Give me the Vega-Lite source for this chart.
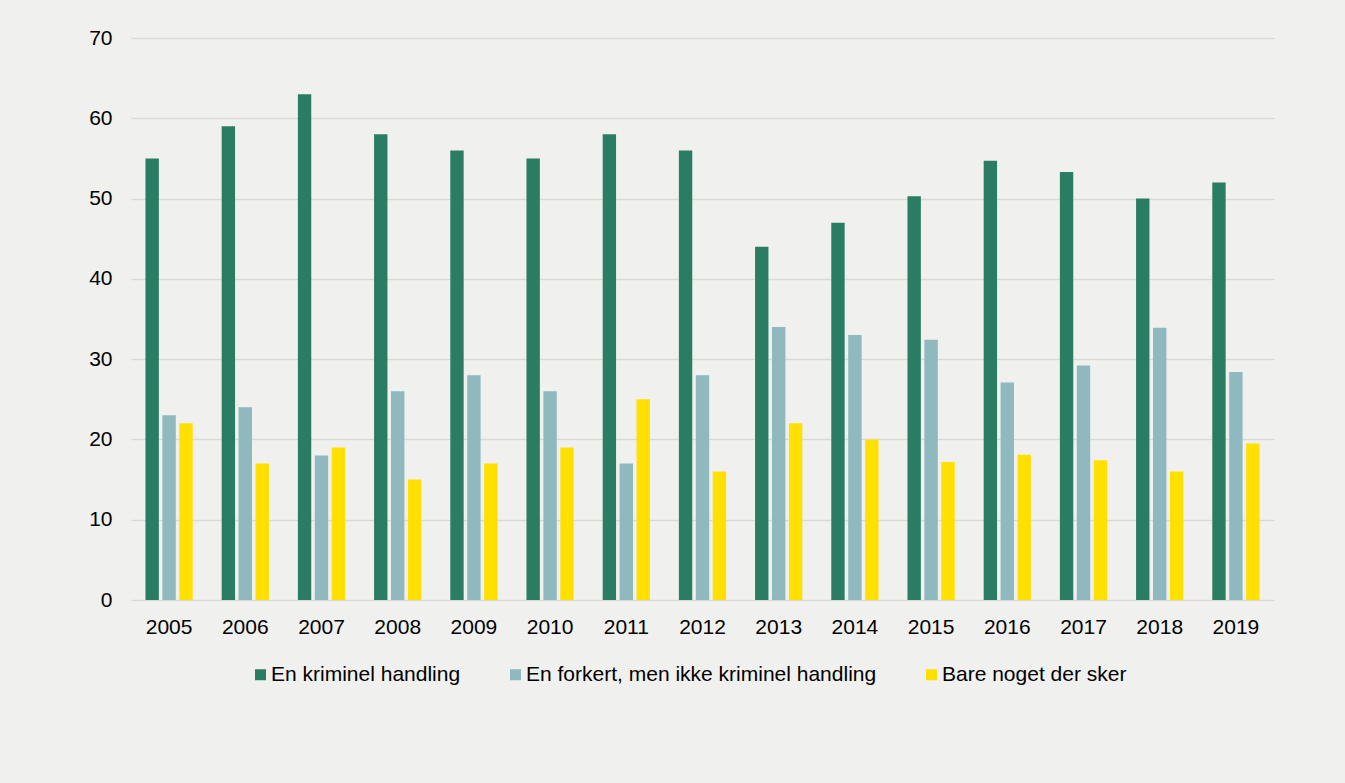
{
  "$schema": "https://vega.github.io/schema/vega-lite/v6.json",
  "width": 1143,
  "height": 562,
  "autosize": {"type": "none"},
  "padding": {"left": 131, "top": 38, "right": 71, "bottom": 183},
  "background": "#f0f0ee",
  "config": {
    "view": {"stroke": null},
    "font": "Liberation Sans",
    "axis": {"labelFont": "Liberation Sans", "labelColor": "#000000", "domain": false, "ticks": false, "title": null},
    "legend": {"labelFont": "Liberation Sans", "labelColor": "#000000"}
  },
  "data": {
    "values": [
      {"year": "2005", "category": "En kriminel handling", "value": 55},
      {"year": "2005", "category": "En forkert, men ikke kriminel handling", "value": 23},
      {"year": "2005", "category": "Bare noget der sker", "value": 22},
      {"year": "2006", "category": "En kriminel handling", "value": 59},
      {"year": "2006", "category": "En forkert, men ikke kriminel handling", "value": 24},
      {"year": "2006", "category": "Bare noget der sker", "value": 17},
      {"year": "2007", "category": "En kriminel handling", "value": 63},
      {"year": "2007", "category": "En forkert, men ikke kriminel handling", "value": 18},
      {"year": "2007", "category": "Bare noget der sker", "value": 19},
      {"year": "2008", "category": "En kriminel handling", "value": 58},
      {"year": "2008", "category": "En forkert, men ikke kriminel handling", "value": 26},
      {"year": "2008", "category": "Bare noget der sker", "value": 15},
      {"year": "2009", "category": "En kriminel handling", "value": 56},
      {"year": "2009", "category": "En forkert, men ikke kriminel handling", "value": 28},
      {"year": "2009", "category": "Bare noget der sker", "value": 17},
      {"year": "2010", "category": "En kriminel handling", "value": 55},
      {"year": "2010", "category": "En forkert, men ikke kriminel handling", "value": 26},
      {"year": "2010", "category": "Bare noget der sker", "value": 19},
      {"year": "2011", "category": "En kriminel handling", "value": 58},
      {"year": "2011", "category": "En forkert, men ikke kriminel handling", "value": 17},
      {"year": "2011", "category": "Bare noget der sker", "value": 25},
      {"year": "2012", "category": "En kriminel handling", "value": 56},
      {"year": "2012", "category": "En forkert, men ikke kriminel handling", "value": 28},
      {"year": "2012", "category": "Bare noget der sker", "value": 16},
      {"year": "2013", "category": "En kriminel handling", "value": 44},
      {"year": "2013", "category": "En forkert, men ikke kriminel handling", "value": 34},
      {"year": "2013", "category": "Bare noget der sker", "value": 22},
      {"year": "2014", "category": "En kriminel handling", "value": 47},
      {"year": "2014", "category": "En forkert, men ikke kriminel handling", "value": 33},
      {"year": "2014", "category": "Bare noget der sker", "value": 20},
      {"year": "2015", "category": "En kriminel handling", "value": 50.3},
      {"year": "2015", "category": "En forkert, men ikke kriminel handling", "value": 32.4},
      {"year": "2015", "category": "Bare noget der sker", "value": 17.2},
      {"year": "2016", "category": "En kriminel handling", "value": 54.7},
      {"year": "2016", "category": "En forkert, men ikke kriminel handling", "value": 27.1},
      {"year": "2016", "category": "Bare noget der sker", "value": 18.1},
      {"year": "2017", "category": "En kriminel handling", "value": 53.3},
      {"year": "2017", "category": "En forkert, men ikke kriminel handling", "value": 29.2},
      {"year": "2017", "category": "Bare noget der sker", "value": 17.4},
      {"year": "2018", "category": "En kriminel handling", "value": 50},
      {"year": "2018", "category": "En forkert, men ikke kriminel handling", "value": 33.9},
      {"year": "2018", "category": "Bare noget der sker", "value": 16},
      {"year": "2019", "category": "En kriminel handling", "value": 52},
      {"year": "2019", "category": "En forkert, men ikke kriminel handling", "value": 28.4},
      {"year": "2019", "category": "Bare noget der sker", "value": 19.5}
    ]
  },
  "mark": {"type": "bar"},
  "encoding": {
    "x": {
      "field": "year",
      "type": "nominal",
      "scale": {"paddingInner": 0.38, "paddingOuter": 0.19},
      "axis": {"labelAngle": 0, "labelFontSize": 21, "labelPadding": 16, "grid": false}
    },
    "xOffset": {
      "field": "category",
      "type": "nominal",
      "sort": ["En kriminel handling", "En forkert, men ikke kriminel handling", "Bare noget der sker"],
      "scale": {"paddingInner": 0.21, "paddingOuter": 0}
    },
    "y": {
      "field": "value",
      "type": "quantitative",
      "scale": {"domain": [0, 70], "nice": false},
      "axis": {
        "values": [0, 10, 20, 30, 40, 50, 60, 70],
        "labelFontSize": 21,
        "labelPadding": 19,
        "grid": true,
        "gridColor": "#d9d9d7",
        "gridWidth": 1.5
      }
    },
    "color": {
      "field": "category",
      "type": "nominal",
      "sort": ["En kriminel handling", "En forkert, men ikke kriminel handling", "Bare noget der sker"],
      "scale": {
        "domain": ["En kriminel handling", "En forkert, men ikke kriminel handling", "Bare noget der sker"],
        "range": ["#2a7d62", "#8fb8bf", "#ffe000"]
      },
      "legend": {
        "title": null,
        "orient": "none",
        "direction": "horizontal",
        "legendX": 119,
        "legendY": 626,
        "symbolType": "square",
        "symbolSize": 121,
        "symbolStrokeWidth": 0,
        "labelFontSize": 21,
        "labelOffset": 0,
        "columnPadding": 44,
        "labelLimit": 600
      }
    }
  }
}
